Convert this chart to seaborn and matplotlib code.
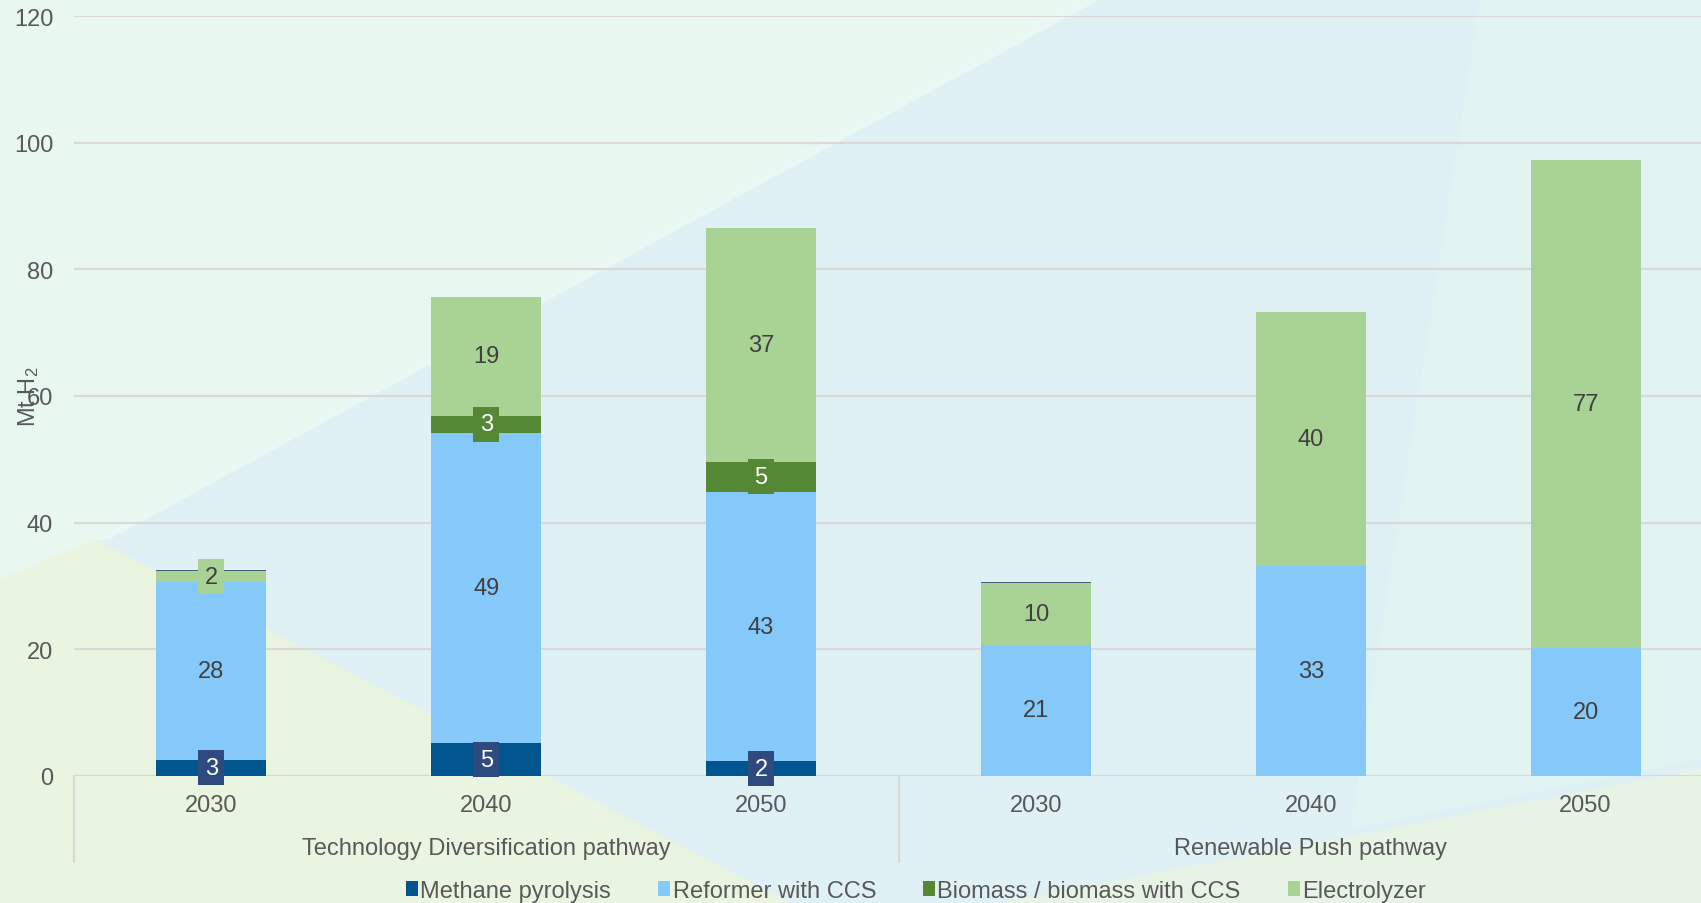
import numpy as np
import pandas as pd
import matplotlib
matplotlib.use("Agg")
import matplotlib.pyplot as plt
from matplotlib.patches import Polygon, Patch
import matplotlib.transforms as mtransforms
import seaborn as sns

# ---- data -------------------------------------------------------------
pathways = ["Technology Diversification pathway", "Renewable Push pathway"]
years = ["2030", "2040", "2050"]

methane_pyrolysis = [2.6, 5.2, 2.3, 0.0, 0.0, 0.0]
reformer_ccs = [28.1, 49.0, 42.6, 20.7, 33.2, 20.2]
biomass = [0.0, 2.6, 4.7, 0.0, 0.0, 0.0]
electrolyzer = [1.6, 18.9, 36.9, 9.8, 40.0, 77.1]
other = [0.25, 0.0, 0.0, 0.2, 0.0, 0.0]

series_names = ["Methane pyrolysis", "Reformer with CCS",
                "Biomass / biomass with CCS", "Electrolyzer"]
series_values = [methane_pyrolysis, reformer_ccs, biomass, electrolyzer]
series_colors = ["#00558F", "#85C9FB", "#548835", "#A9D394"]
label_box_colors = ["#2E4A7E", None, "#548835", "#A9D394"]
label_text_colors = ["white", "#404040", "white", "#404040"]
other_color = "#4A5F78"

slots = [f"{p}|{y}" for p in pathways for y in years]
slot_years = [s.split("|")[1] for s in slots]

df = pd.DataFrame({"slot": slots})
for name, vals in zip(series_names, series_values):
    df[name] = vals
df["other"] = other

# ---- style ------------------------------------------------------------
sns.set_theme(style="white")
plt.rcParams["font.family"] = ["Liberation Sans", "DejaVu Sans"]
plt.rcParams["mathtext.fontset"] = "custom"
plt.rcParams["mathtext.rm"] = "Liberation Sans"
plt.rcParams["mathtext.it"] = "Liberation Sans"

W, H = 1701, 904
fig = plt.figure(figsize=(W / 100, H / 100), dpi=100)
fig.patch.set_facecolor("#E8F8F1")


def fpoly(pts, color):
    xy = [(x / W, 1 - y / H) for x, y in pts]
    fig.add_artist(Polygon(xy, closed=True, transform=fig.transFigure,
                           facecolor=color, edgecolor="none", zorder=-5))


# soft background shapes
fpoly([(1075, 0), (1701, 0), (1701, 780), (1000, 904), (790, 904), (90, 542)], "#E0F1F5")
fpoly([(1075, 0), (1101, 0), (110, 540), (90, 542)], "#EAF8F4")
fpoly([(1480, 0), (1701, 0), (1701, 760), (1350, 830)], "#E1F3F3")
fpoly([(0, 580), (95, 540), (790, 904), (0, 904)], "#EAF5E1")
fpoly([(1000, 904), (1701, 770), (1701, 904)], "#E7F4E5")

ax = fig.add_axes([74 / W, 127 / H, 1649 / W, 760 / H])
ax.set_facecolor("none")

# ---- stacked bars (drawn as overlapping cumulative totals) -----------
stack_cols = series_names + ["other"]
stack_colors = series_colors + [other_color]
cum = df[stack_cols].cumsum(axis=1)
for col, color in reversed(list(zip(stack_cols, stack_colors))):
    sns.barplot(x=df["slot"], y=cum[col], order=slots, color=color,
                saturation=1, width=0.4, errorbar=None, linewidth=0,
                ax=ax, zorder=3)

# ---- data labels -----------------------------------------------------
bottoms = np.zeros(len(slots))
for name, vals, bc, tc in zip(series_names, series_values,
                              label_box_colors, label_text_colors):
    vals = np.asarray(vals)
    for i, v in enumerate(vals):
        if v >= 1:
            kw = {}
            if bc is not None:
                kw["bbox"] = dict(boxstyle="square,pad=0.27", fc=bc, ec="none")
            ax.text(i, bottoms[i] + v / 2, f"{int(np.floor(v + 0.5))}",
                    ha="center", va="center", fontsize=17, color=tc,
                    zorder=5, **kw)
    bottoms += vals

# ---- axes --------------------------------------------------------------
ax.set_xlim(-0.5, 5.5)
ax.set_ylim(0, 120)
ax.set_yticks(range(0, 121, 20))
ax.set_xticks(range(len(slots)))
ax.set_xticklabels(slot_years)
ax.tick_params(axis="y", length=0, pad=15, labelsize=17, labelcolor="#595959")
ax.tick_params(axis="x", length=0, pad=13, labelsize=17, labelcolor="#595959")
ax.set_xlabel("")
ax.set_ylabel("")
for s in ax.spines.values():
    s.set_visible(False)
ax.grid(axis="y", color="#D9D9D9", linewidth=1.6, zorder=0)
ax.grid(axis="x", visible=False)
ax.set_axisbelow(True)

# group dividers and pathway names under the year ticks
tr = mtransforms.blended_transform_factory(ax.transData, ax.transAxes)
for xd in [-0.5, 2.5, 5.5]:
    ax.plot([xd, xd], [0, -0.113], transform=tr, color="#D9D9D9",
            linewidth=1.6, clip_on=False)
for k, name in enumerate(pathways):
    ax.text(3 * k + 1, -0.095, name, transform=tr, ha="center", va="center",
            fontsize=17, color="#595959")

fig.text(29 / W, 1 - 397 / H, "Mt H$_2$", rotation=90, ha="center",
         va="center", fontsize=17, color="#595959")

handles = [Patch(facecolor=c, edgecolor="none") for c in series_colors]
fig.legend(handles, series_names, loc="center",
           bbox_to_anchor=(916 / W, 1 - 892 / H), ncol=4, frameon=False,
           fontsize=17, labelcolor="#595959", handlelength=0.5,
           handleheight=0.6, handletextpad=0.1, columnspacing=2.0,
           borderpad=0, borderaxespad=0)

fig.savefig("out.png", dpi=100, facecolor=fig.get_facecolor())
